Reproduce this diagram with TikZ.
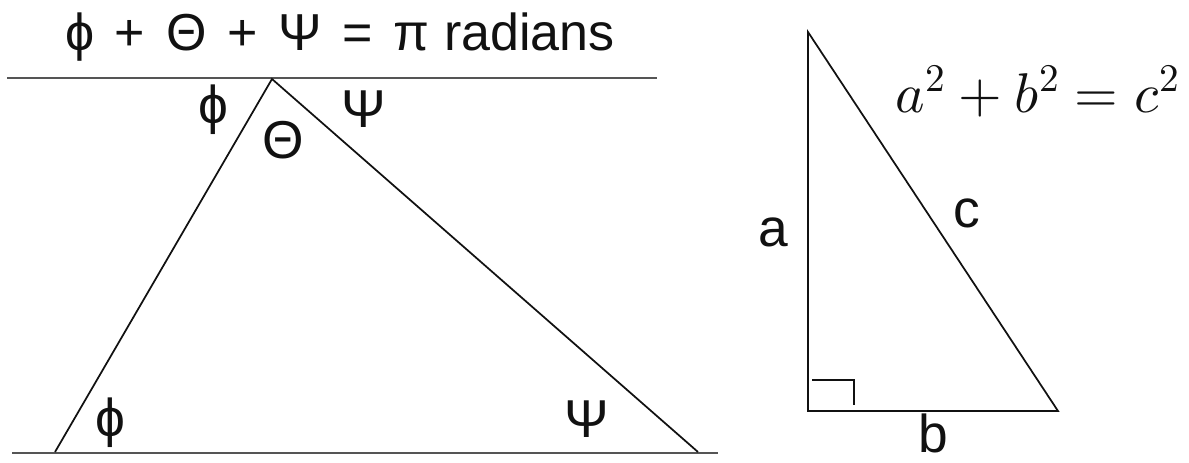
\documentclass[tikz,border=0pt]{standalone}
\usepackage{fontspec}
\usepackage{unicode-math}
\setmainfont{Liberation Sans}
\setmathfont{Latin Modern Math}
\usetikzlibrary{positioning,calc}
\definecolor{Ink}{HTML}{111111}
\definecolor{Rule}{HTML}{555555}

\begin{document}
\begin{tikzpicture}[x=0.75pt,y=0.75pt,
  edge/.style={Ink,line width=1.3pt,line join=miter},
  rule/.style={Rule,line width=2.2pt},
  angle/.style={font=\fontsize{40}{42}\selectfont,text=Ink,inner sep=0pt},
  side/.style={font=\fontsize{40}{42}\selectfont,text=Ink,inner sep=0pt}]
\useasboundingbox (0,0) rectangle (1189,462);
% parallel lines
\coordinate (topL) at (7,384);
\coordinate (topR) at (657,384);
\coordinate (botL) at (12,9);
\coordinate (botR) at (718,9);
\draw[rule] (topL) -- (topR);
\draw[rule] (botL) -- (botR);
% triangle between them
\coordinate (apex) at (272,383);
\coordinate (left) at (55,10);
\coordinate (right) at (698,10);
\draw[edge] (left) -- (apex) -- (right);
\node[font=\fontsize{39}{41}\selectfont,text=Ink,anchor=base,inner sep=0pt] (sum) at (340,412)
  {ϕ\hspace{0.4em}+\hspace{0.4em}Θ\hspace{0.4em}+\hspace{0.4em}Ψ\hspace{0.4em}=\hspace{0.4em}π radians};
\node[angle] (phiT) at (213,352) {ϕ};
\node[angle] (thetaT) at (283,322) {Θ};
\node[angle] (psiT) at (364,353) {Ψ};
\node[angle] (phiB) at (110,39) {ϕ};
\node[angle] (psiB) at (587,43) {Ψ};
% right triangle
\coordinate (rtop) at (808,430);
\coordinate (rcorner) at (808,51);
\coordinate (rright) at (1058,51);
\draw[edge] (rtop) -- (rcorner) -- (rright) -- cycle;
\coordinate (sq1) at (812,82);
\coordinate (sq2) at (854,82);
\coordinate (sq3) at (854,57);
\draw[Ink,line width=1.1pt] (sq1) -- (sq2) -- (sq3);
\node[side] (sideA) at (773,230) {a};
\node[side] (sideC) at (967,249) {c};
\node[side,anchor=base] (sideB) at (933,10) {b};
\node[font=\fontsize{42}{44}\selectfont,text=Ink,anchor=base,inner sep=0pt] (pyth) at (1038,350) {$a^2+b^2=c^2$};
\end{tikzpicture}
\end{document}
